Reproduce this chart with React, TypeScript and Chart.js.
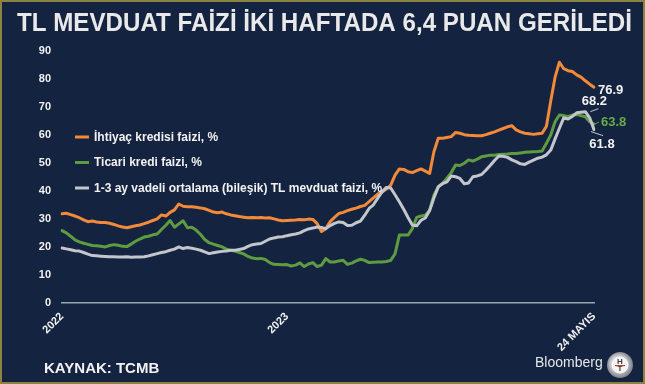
import React, { useEffect, useRef } from 'react';
import { Chart, registerables } from 'chart.js';

Chart.register(...registerables);

// Weekly observations, first week of 2022 to 24 May 2024
const ihtiyac: number[] = [
  31.8, 32.0, 31.5, 31.0, 30.4, 29.6, 29.0, 29.2, 28.9, 28.7,
  28.7, 28.4, 28.0, 27.5, 27.1, 26.8, 27.2, 27.5, 27.8, 28.3,
  28.8, 29.4, 30.0, 31.4, 31.0, 32.3, 33.2, 35.3, 34.5, 34.3,
  34.3, 34.1, 33.9, 33.6, 33.0, 32.4, 32.2, 32.4, 31.8, 31.4,
  31.1, 30.8, 30.6, 30.4, 30.5, 30.4, 30.5, 30.3, 30.4, 30.0,
  29.6, 29.3, 29.4, 29.5, 29.6, 29.8, 29.7, 29.9, 29.8, 28.3,
  25.5, 26.5, 29.0, 30.5, 31.9, 32.3, 32.9, 33.4, 33.8, 34.4,
  34.8, 36.1, 37.5, 38.8, 39.6, 40.6, 42.0, 45.6, 47.8, 47.6,
  46.8, 46.5, 47.2, 47.8, 47.0, 46.2, 54.0, 58.7, 58.7, 59.0,
  59.3, 60.8, 60.5, 60.0, 59.8, 59.7, 59.6, 59.6, 60.0, 60.5,
  61.0, 61.6, 62.2, 62.8, 63.2, 61.7, 61.0, 60.5, 60.3, 60.1,
  60.3, 60.5, 63.0, 72.0, 80.5, 85.8, 83.5, 82.8, 82.5, 81.3,
  80.5, 79.2, 78.0, 76.9,
];

const ticari: number[] = [
  25.8, 25.0, 23.8, 22.5, 21.8, 21.3, 20.9, 20.5, 20.4, 20.2,
  20.0, 20.5, 20.8, 20.6, 20.2, 20.1, 21.0, 22.0, 22.8, 23.5,
  23.8, 24.3, 24.6, 26.2, 27.7, 29.4, 27.0, 28.2, 29.3, 26.8,
  27.0, 26.0, 24.5, 22.6, 21.5, 21.0, 20.5, 20.0, 19.2, 18.8,
  18.5, 18.0, 17.5, 16.6, 16.0, 15.8, 15.9, 15.5, 14.4, 13.8,
  13.7, 13.6, 13.7, 13.2, 13.5, 14.3, 13.0, 13.9, 14.4, 13.0,
  13.5, 15.8, 14.6, 14.6, 15.0, 15.2, 13.8, 14.2, 15.0, 15.6,
  15.2, 14.4, 14.5, 14.6, 14.6, 14.8, 15.2, 17.5, 24.2, 24.2,
  24.2, 26.5, 30.5, 31.0, 31.3, 33.1, 38.5, 41.5, 42.6, 44.5,
  46.5, 49.2, 49.0, 49.8, 51.0, 50.6, 51.3, 52.1, 52.4, 52.7,
  52.7, 52.9, 53.0, 53.1, 53.3, 53.3, 53.5, 53.7, 53.8, 53.9,
  54.0, 54.2, 56.9, 59.9, 64.6, 67.0, 66.8, 66.4, 67.0, 67.2,
  66.8, 66.4, 64.6, 63.8,
];

const mevduat: number[] = [
  19.6, 19.3, 19.0, 18.6, 18.5, 18.0, 17.4, 16.9, 16.8, 16.7,
  16.6, 16.5, 16.5, 16.4, 16.4, 16.5, 16.3, 16.4, 16.4, 16.5,
  16.8, 17.2, 17.6, 18.0, 18.3, 18.8, 19.2, 20.0, 19.4, 19.8,
  19.5, 19.2, 18.8, 18.2, 17.6, 17.9, 18.2, 18.4, 18.5, 18.8,
  18.8, 19.1, 19.4, 20.2, 20.8, 21.0, 21.2, 22.0, 22.8, 23.2,
  23.5, 23.6, 24.0, 24.3, 24.6, 25.0, 25.8, 26.4, 26.7, 27.1,
  26.9, 26.5, 27.6, 28.4, 28.9, 28.7, 27.6, 27.7, 28.6, 29.2,
  31.3, 33.7, 35.0, 37.4, 39.6, 41.2, 41.0, 38.6, 36.1, 33.4,
  30.5, 27.8, 27.5, 29.5, 30.3, 33.0, 37.5, 41.4, 42.6, 43.2,
  45.3, 45.0, 44.4, 42.5, 42.8, 45.0, 45.3, 45.8, 47.3, 49.0,
  50.8, 52.4, 52.3, 51.9, 51.0, 50.4, 49.6, 49.4, 50.2, 50.9,
  51.6, 52.0, 52.8, 54.5, 58.5, 62.3, 66.0, 65.6, 66.5, 67.8,
  68.0, 68.2, 66.0, 61.8,
];

const tickPositions: number[] = [0, 52, 123];
const tickLabels: string[] = ['2022', '2023', '24 MAYIS'];

const seriesNames: string[] = [
  'İhtiyaç kredisi faizi, %',
  'Ticari kredi faizi, %',
  '1-3 ay vadeli ortalama (bileşik) TL mevduat faizi, %',
];
const seriesColors: string[] = ['#f28a3a', '#5f9b41', '#c3c6cc'];

const title = 'TL MEVDUAT FAİZİ İKİ HAFTADA 6,4 PUAN GERİLEDİ';
const source = 'KAYNAK: TCMB';

const categories: string[] = ihtiyac.map((_, i) => {
  const k = tickPositions.indexOf(i);
  return k >= 0 ? tickLabels[k] : '';
});

const FONT = '"Liberation Sans", Arial, Helvetica, sans-serif';

const decorPlugin = {
  id: 'decor',
  beforeDraw(chart: any) {
    const { ctx, width, height } = chart;
    ctx.save();
    ctx.fillStyle = '#14233f';
    ctx.fillRect(0, 0, width, height);
    ctx.strokeStyle = '#8a8342';
    ctx.lineWidth = 2;
    ctx.strokeRect(1, 1, width - 2, height - 2);
    ctx.restore();
  },
  afterDraw(chart: any) {
    const { ctx } = chart;
    ctx.save();
    // Title
    ctx.font = `bold 25px ${FONT}`;
    ctx.fillStyle = '#e9e9ea';
    ctx.textBaseline = 'middle';
    ctx.textAlign = 'center';
    const tw = ctx.measureText(title).width;
    const target = 615;
    ctx.save();
    ctx.translate(324.5, 24);
    ctx.scale(Math.min(1, target / tw), 1);
    ctx.fillText(title, 0, 0);
    ctx.restore();

    // Legend
    const ly = [137, 162.5, 188];
    chart.data.datasets.forEach((ds: any, i: number) => {
      ctx.strokeStyle = ds.borderColor;
      ctx.lineWidth = 3;
      ctx.lineCap = 'butt';
      ctx.beginPath();
      ctx.moveTo(75, ly[i]);
      ctx.lineTo(89, ly[i]);
      ctx.stroke();
      ctx.font = `bold 12px ${FONT}`;
      ctx.fillStyle = '#f2f2f2';
      ctx.textAlign = 'left';
      ctx.textBaseline = 'middle';
      ctx.fillText(ds.label, 94, ly[i] + 0.5);
    });

    // End labels
    const pt = (di: number, idx: number) => chart.getDatasetMeta(di).data[idx];
    ctx.font = `bold 13px ${FONT}`;
    ctx.textBaseline = 'middle';
    const last = ihtiyac.length - 1;
    // orange
    const po = pt(0, last);
    ctx.fillStyle = '#f2f2f2';
    ctx.textAlign = 'left';
    ctx.fillText(ihtiyac[last].toFixed(1), po.x + 4, po.y + 3);
    // gray peak
    const peakIdx = last - 2;
    const pg = pt(2, peakIdx);
    ctx.strokeStyle = '#c3c6cc';
    ctx.lineWidth = 1;
    ctx.beginPath();
    ctx.moveTo(pg.x + 5, pg.y);
    ctx.lineTo(pg.x + 13, pg.y - 3);
    ctx.stroke();
    ctx.textAlign = 'center';
    ctx.fillText(mevduat[peakIdx].toFixed(1), pg.x + 9, pg.y - 10);
    // green last
    const pgr = pt(1, last);
    ctx.strokeStyle = '#5f9b41';
    ctx.beginPath();
    ctx.moveTo(pgr.x + 1, pgr.y);
    ctx.lineTo(pgr.x + 5, pgr.y - 2);
    ctx.stroke();
    ctx.fillStyle = '#6aab48';
    ctx.textAlign = 'left';
    ctx.fillText(ticari[last].toFixed(1), pgr.x + 7, pgr.y - 2);
    // gray last
    const pgl = pt(2, last);
    ctx.strokeStyle = '#c3c6cc';
    ctx.beginPath();
    ctx.moveTo(pgl.x - 3, pgl.y + 2);
    ctx.lineTo(pgl.x + 9, pgl.y + 6);
    ctx.stroke();
    ctx.fillStyle = '#f2f2f2';
    ctx.textAlign = 'center';
    ctx.fillText(mevduat[last].toFixed(1), pgl.x + 8, pgl.y + 15);

    // Source
    ctx.font = `bold 15px ${FONT}`;
    ctx.fillStyle = '#f2f2f2';
    ctx.textAlign = 'left';
    ctx.textBaseline = 'middle';
    ctx.fillText(source, 44, 369);

    // Bloomberg wordmark
    ctx.font = `14px ${FONT}`;
    ctx.fillStyle = '#e6e7ea';
    ctx.fillText('Bloomberg', 535, 363);

    // HT logo
    const cx = 620, cy = 365;
    const grad = ctx.createRadialGradient(cx - 3, cy - 3, 2, cx, cy, 14);
    grad.addColorStop(0, '#f4f4f4');
    grad.addColorStop(0.6, '#b9bcc2');
    grad.addColorStop(1, '#6e7278');
    ctx.fillStyle = grad;
    ctx.beginPath();
    ctx.arc(cx, cy, 13, 0, Math.PI * 2);
    ctx.fill();
    ctx.fillStyle = '#f5f5f5';
    ctx.beginPath();
    ctx.arc(cx, cy, 8.5, 0, Math.PI * 2);
    ctx.fill();
    ctx.fillStyle = '#3a3d44';
    ctx.font = `bold 8px ${FONT}`;
    ctx.textAlign = 'center';
    ctx.fillText('H', cx, cy - 3.5);
    ctx.fillText('T', cx, cy + 4);
    ctx.fillStyle = '#c0392b';
    ctx.fillRect(cx - 5, cy, 10, 1.2);
    ctx.restore();
  },
};

export default function App() {
  const canvasRef = useRef<HTMLCanvasElement | null>(null);

  useEffect(() => {
    const canvas = canvasRef.current;
    if (!canvas) return;
    const chart = new Chart(canvas, {
      type: 'line',
      data: {
        labels: categories,
        datasets: [
          { label: seriesNames[0], data: ihtiyac, borderColor: seriesColors[0], order: 2 },
          { label: seriesNames[1], data: ticari, borderColor: seriesColors[1], order: 1 },
          { label: seriesNames[2], data: mevduat, borderColor: seriesColors[2], order: 0 },
        ].map((d) => ({
          ...d,
          borderWidth: 3,
          pointRadius: 0,
          tension: 0,
          fill: false,
          borderJoinStyle: 'round' as const,
          borderCapStyle: 'round' as const,
        })),
      },
      options: {
        animation: false,
        responsive: false,
        maintainAspectRatio: false,
        events: [],
        layout: { padding: { top: 50.5, right: 51, left: 0, bottom: 0 } },
        plugins: {
          legend: { display: false },
          title: { display: false },
          tooltip: { enabled: false },
        },
        scales: {
          x: {
            type: 'category',
            offset: false,
            grid: { display: false, drawTicks: false },
            border: { display: true, color: '#9aa4b8', width: 1.5 },
            ticks: {
              autoSkip: false,
              maxRotation: 45,
              minRotation: 45,
              padding: 7,
              color: '#f0f0f0',
              font: { family: FONT, size: 11, weight: 'bold' },
            },
            afterFit: (scale: any) => {
              scale.height = 81;
            },
          },
          y: {
            min: 0,
            max: 90,
            grid: { display: false, drawTicks: false },
            border: { display: false },
            ticks: {
              stepSize: 10,
              padding: 11,
              color: '#f0f0f0',
              font: { family: FONT, size: 11, weight: 'bold' },
            },
            afterFit: (scale: any) => {
              scale.width = 62;
            },
          },
        },
      },
      plugins: [decorPlugin],
    });
    return () => chart.destroy();
  }, []);

  return (
    <div style={{ position: 'fixed', left: 0, top: 0, width: 645, height: 384 }}>
      <canvas ref={canvasRef} width={645} height={384} style={{ display: 'block' }} />
    </div>
  );
}
